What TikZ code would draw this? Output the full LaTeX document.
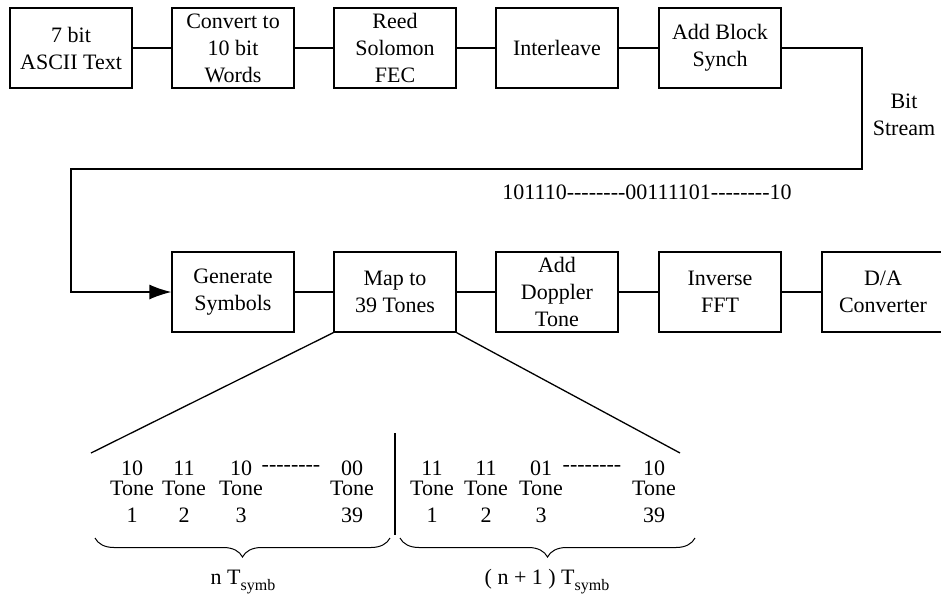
\documentclass[tikz,border=0pt]{standalone}
\usepackage{fontspec}
\defaultfontfeatures{}
\setmainfont{Liberation Serif}[Ligatures=TeXOff]
\usetikzlibrary{arrows.meta,decorations.pathreplacing}

\tikzset{
	block/.style={rectangle, draw, line width=1.3pt, inner sep=0pt, minimum width=122pt, minimum height=80pt, align=center},
	wire/.style={line width=1.3pt},
	tonecol/.style={align=center, inner sep=0pt},
	curly/.style={line width=1pt, decorate, decoration={brace, mirror, amplitude=19pt}}
}
\newcommand{\symbsub}{\raisebox{-0.6ex}{\fontsize{16}{16}\selectfont symb}}

\begin{document}
\begin{tikzpicture}[x=1pt, y=-1pt, font=\fontsize{22}{27}\selectfont]

	\useasboundingbox (0,0) rectangle (941,603);

	% first row
	\node 	(txt)		at	(71,48) 	[block]{7 bit\\ASCII Text};
	\node 	(conv)		at	(233,48) 	[block]{Convert to\\10 bit\\Words};
	\node 	(rs)		at	(395,48) 	[block]{Reed\\Solomon\\FEC};
	\node 	(intl)		at	(557,48) 	[block]{Interleave};
	\node 	(sync)		at	(720,48) 	[block]{Add Block\\Synch};

	% second row
	\node 	(gen)		at	(233,292) 	[block]{Generate\\Symbols};
	\node 	(map)		at	(395,292) 	[block]{Map to\\39 Tones};
	\node 	(dop)		at	(557,292) 	[block]{Add\\Doppler\\Tone};
	\node 	(ifft)		at	(720,292) 	[block]{Inverse\\FFT};
	\node 	(dac)		at	(883,292) 	[block]{D/A\\Converter};

	\node 	(bitlbl)	at	(904,115) 	[align=center, inner sep=0pt]{Bit\\Stream};
	\node 	(bits)		at	(647,192) 	[inner sep=0pt]{101110--------00111101--------10};

	\coordinate (c1) at (862,169);
	\coordinate (c2) at (71,169);

	\draw[wire]	(txt)	--	(conv);
	\draw[wire]	(conv)	--	(rs);
	\draw[wire]	(rs)	--	(intl);
	\draw[wire]	(intl)	--	(sync);
	\draw[wire]	(gen)	--	(map);
	\draw[wire]	(map)	--	(dop);
	\draw[wire]	(dop)	--	(ifft);
	\draw[wire]	(ifft)	--	(dac);

	\draw[wire, -{Latex[length=22pt, width=15pt]}]	(sync.east)	-|	(c1)	--	(c2)	|-	(gen.west);

	% zoom on the tones
	\coordinate (fl) at (91,453);
	\coordinate (fr) at (680,453);
	\draw[wire]	(map.south west)	--	(fl);
	\draw[wire]	(map.south east)	--	(fr);

	\coordinate (sepa) at (395,433);
	\coordinate (sepb) at (395,535);
	\draw[wire]	(sepa)	--	(sepb);

	\node 	(ta1)	at	(132,492) 	[tonecol]{10\\[-7pt]Tone\\1};
	\node 	(ta2)	at	(184,492) 	[tonecol]{11\\[-7pt]Tone\\2};
	\node 	(ta3)	at	(241,492) 	[tonecol]{10\\[-7pt]Tone\\3};
	\node 	(ta4)	at	(352,492) 	[tonecol]{00\\[-7pt]Tone\\39};
	\node 	(tadots)	at	(291,468) 	[inner sep=0pt]{--------};

	\node 	(tb1)	at	(432,492) 	[tonecol]{11\\[-7pt]Tone\\1};
	\node 	(tb2)	at	(486,492) 	[tonecol]{11\\[-7pt]Tone\\2};
	\node 	(tb3)	at	(541,492) 	[tonecol]{01\\[-7pt]Tone\\3};
	\node 	(tb4)	at	(654,492) 	[tonecol]{10\\[-7pt]Tone\\39};
	\node 	(tbdots)	at	(592,468) 	[inner sep=0pt]{--------};

	\coordinate (bal) at (95,538);
	\coordinate (bar) at (390,538);
	\coordinate (bbl) at (400,538);
	\coordinate (bbr) at (695,538);
	\draw[curly]	(bal)	--	(bar);
	\draw[curly]	(bbl)	--	(bbr);

	\node 	(tn)	at	(243,582) 	[inner sep=0pt]{n T\symbsub};
	\node 	(tn1)	at	(547,582) 	[inner sep=0pt]{( n + 1 ) T\symbsub};

\end{tikzpicture}
\end{document}
